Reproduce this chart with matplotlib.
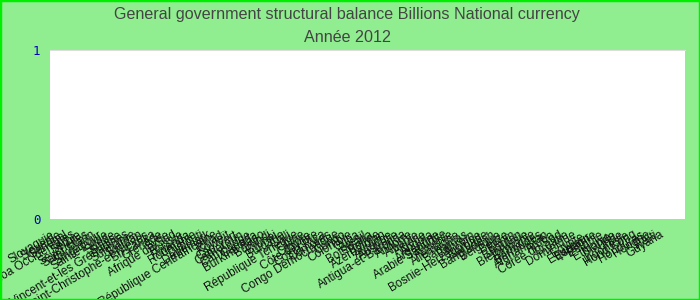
import matplotlib
matplotlib.use("Agg")
import matplotlib.pyplot as plt

# -----------------------------------------------------------------------
# DATA: countries (French names), structural balance 2012 (no values shown)
# -----------------------------------------------------------------------
COUNTRIES = [
    "Slovaquie", "Slovénie", "Sénégal", "Samoa Occidentales", "Serbie",
    "Seychelles", "Saint-Marin", "Singapour", "Sainte-Lucie", "Suède",
    "Suisse", "Saint-Vincent-et-les Grenadines", "Suriname", "Soudan",
    "Saint-Christophe-et-Niévès", "Sri Lanka", "Grenade", "Syrie",
    "Afrique du Sud", "Russie", "Rwanda", "Roumanie", "Djibouti",
    "Danemark", "République Centrafricaine", "Tchad", "Koweït",
    "Cap-Vert", "Cameroun", "Cambodge", "Canada", "Burkina Faso",
    "Burundi", "Brunei", "Bulgarie", "Chili", "République Tchèque",
    "Chine", "Chypre", "Côte d'Ivoire", "Costa Rica", "Comores",
    "Congo Démocratique", "Congo", "Colombie", "Cuba", "Brésil",
    "Botswana", "Bolivie", "Azerbaïdjan", "Autriche", "Australie",
    "Antigua-et-Barbuda", "Andorre", "Albanie", "Algérie", "Angola",
    "Argentine", "Arabie Saoudite", "Arménie", "Allemagne", "Bahamas",
    "Bahreïn", "Bosnie-Herzégovine", "Barbade", "Bangladesh", "Belgique",
    "Belize", "Bénin", "Bhoutan", "Biélorussie", "Birmanie", "Bermudes",
    "Afghanistan", "Aruba", "Corée du Sud", "Croatie", "Dominique",
    "Égypte", "Équateur", "Espagne", "Estonie", "Éthiopie", "Islande",
    "Inde", "Indonésie", "Hong Kong", "Honduras", "Hongrie", "Haïti",
    "Guyana",
]
VALUES = [0.0] * len(COUNTRIES)

TITLE = "General government structural balance Billions National currency"
SUBTITLE = "Année 2012"
YTICKS = [0, 1]

BG = "#90ee90"
BORDER = "#00ee00"

# -----------------------------------------------------------------------
# FIGURE
# -----------------------------------------------------------------------
fig = plt.figure(figsize=(7, 3), dpi=100, facecolor=BG)
fig.patches.append(plt.Rectangle((0, 0), 1, 1, transform=fig.transFigure,
                                 fill=False, edgecolor=BORDER, lw=2.5))
ax = fig.add_axes([50 / 700, 1 - 219 / 300, 635 / 700, 169 / 300])
ax.set_facecolor("white")

n = len(COUNTRIES)
pos = list(range(n))
ax.bar(pos, VALUES, width=0.6, color="#4472c4")

# first tick near the left edge, last near x=660 px
ax.set_xlim(-0.1, (n - 1) * 635 / 610)
ax.set_ylim(0, 1)
ax.set_xticks(pos)
ax.set_xticklabels(COUNTRIES, rotation=31, ha="right",
                   rotation_mode="anchor", fontsize=8.5,
                   family="Liberation Sans", color="#111111")
ax.set_yticks(YTICKS)
ax.set_yticklabels([str(v) for v in YTICKS], family="DejaVu Sans Mono",
                   fontsize=9, color="#0000bb")
ax.tick_params(axis="both", length=0)
ax.tick_params(axis="x", pad=7)
ax.tick_params(axis="y", pad=7)
for side in ["left", "bottom", "right"]:
    ax.spines[side].set_visible(False)
ax.spines["top"].set_color("#dddddd")

fig.text(0.496, 1 - 15 / 300, TITLE, ha="center", va="center",
         family="Liberation Sans", fontsize=11.6, color="#444444")
fig.text(0.496, 1 - 37 / 300, SUBTITLE, ha="center", va="center",
         family="Liberation Sans", fontsize=11.6, color="#444444")

fig.savefig("out.png", dpi=100, facecolor=BG)
